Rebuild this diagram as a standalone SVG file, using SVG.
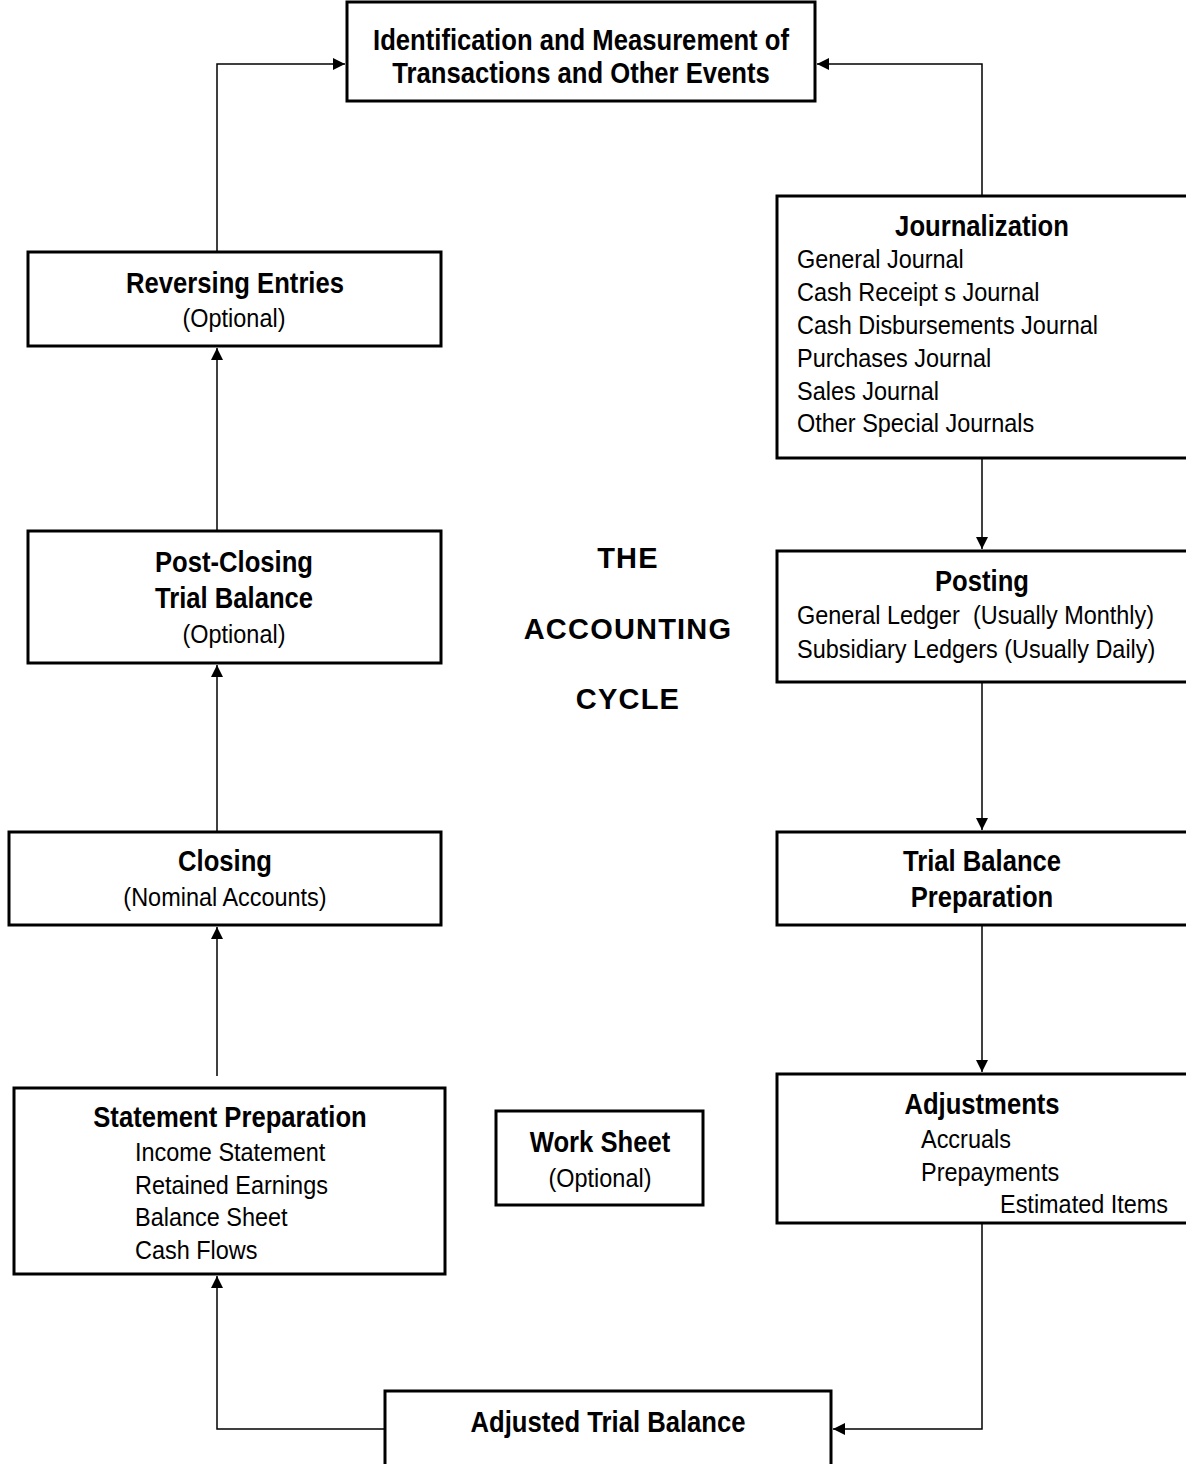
<svg xmlns="http://www.w3.org/2000/svg" width="1186" height="1464" viewBox="0 0 1186 1464">
<defs>
<style>
.box{fill:#fff;stroke:#000;stroke-width:3}
.t{font-family:"Liberation Sans",Arial,sans-serif;font-size:26.5px;fill:#000}
.b{font-weight:bold;font-size:30px}
.c{text-anchor:middle}
.cy{font-family:"Liberation Sans",Arial,sans-serif;font-weight:bold;font-size:29px;fill:#000;text-anchor:middle;letter-spacing:1.2px}
.ln{fill:none;stroke:#000;stroke-width:1.5}
</style>
<marker id="ah" viewBox="0 0 12 12" refX="12" refY="6" markerWidth="12" markerHeight="12" markerUnits="userSpaceOnUse" orient="auto">
<path d="M0,0 L12,6 L0,12 z" fill="#000"/>
</marker>
</defs>
<rect width="1186" height="1464" fill="#fff"/>
<g id="connectors">
<path class="ln" d="M217,252 V64 H345" marker-end="url(#ah)"/>
<path class="ln" d="M982,196 V64 H817" marker-end="url(#ah)"/>
<path class="ln" d="M217,531 V348" marker-end="url(#ah)"/>
<path class="ln" d="M217,832 V665" marker-end="url(#ah)"/>
<path class="ln" d="M217,1076 V927" marker-end="url(#ah)"/>
<path class="ln" d="M385,1429 H217 V1276" marker-end="url(#ah)"/>
<path class="ln" d="M982,458 V549" marker-end="url(#ah)"/>
<path class="ln" d="M982,682 V830" marker-end="url(#ah)"/>
<path class="ln" d="M982,925 V1072" marker-end="url(#ah)"/>
<path class="ln" d="M982,1223 V1429 H833" marker-end="url(#ah)"/>
</g>
<g id="identification">
<rect class="box" x="347" y="2" width="468" height="99"/>
<text class="t b c" transform="translate(581,50) scale(0.855,1)">Identification and Measurement of</text>
<text class="t b c" transform="translate(581,83) scale(0.855,1)">Transactions and Other Events</text>
</g>
<g id="journalization">
<rect class="box" x="777" y="196" width="420" height="262"/>
<text class="t b c" transform="translate(982,236) scale(0.855,1)">Journalization</text>
<text class="t" transform="translate(797,268) scale(0.885,1)">General Journal</text>
<text class="t" transform="translate(797,301) scale(0.885,1)">Cash Receipt s Journal</text>
<text class="t" transform="translate(797,334) scale(0.885,1)">Cash Disbursements Journal</text>
<text class="t" transform="translate(797,367) scale(0.885,1)">Purchases Journal</text>
<text class="t" transform="translate(797,400) scale(0.885,1)">Sales Journal</text>
<text class="t" transform="translate(797,432) scale(0.885,1)">Other Special Journals</text>
</g>
<g id="posting">
<rect class="box" x="777" y="551" width="420" height="131"/>
<text class="t b c" transform="translate(982,591) scale(0.855,1)">Posting</text>
<text class="t" transform="translate(797,623.5) scale(0.885,1)" xml:space="preserve">General Ledger  (Usually Monthly)</text>
<text class="t" transform="translate(797,657.5) scale(0.885,1)">Subsidiary Ledgers (Usually Daily)</text>
</g>
<g id="trial-balance">
<rect class="box" x="777" y="832" width="420" height="93"/>
<text class="t b c" transform="translate(982,871) scale(0.855,1)">Trial Balance</text>
<text class="t b c" transform="translate(982,907) scale(0.855,1)">Preparation</text>
</g>
<g id="adjustments">
<rect class="box" x="777" y="1074" width="420" height="149"/>
<text class="t b c" transform="translate(982,1114) scale(0.855,1)">Adjustments</text>
<text class="t" transform="translate(921,1147.5) scale(0.885,1)">Accruals</text>
<text class="t" transform="translate(921,1180.5) scale(0.885,1)">Prepayments</text>
<text class="t" transform="translate(1000,1212.5) scale(0.885,1)">Estimated Items</text>
</g>
<g id="adjusted-trial-balance">
<rect class="box" x="385" y="1391" width="446" height="90"/>
<text class="t b c" transform="translate(608,1432) scale(0.855,1)">Adjusted Trial Balance</text>
</g>
<g id="statement-preparation">
<rect class="box" x="14" y="1088" width="431" height="186"/>
<text class="t b c" transform="translate(230,1127) scale(0.855,1)">Statement Preparation</text>
<text class="t" transform="translate(135,1160.5) scale(0.885,1)">Income Statement</text>
<text class="t" transform="translate(135,1193.5) scale(0.885,1)">Retained Earnings</text>
<text class="t" transform="translate(135,1225.5) scale(0.885,1)">Balance Sheet</text>
<text class="t" transform="translate(135,1258.5) scale(0.885,1)">Cash Flows</text>
</g>
<g id="work-sheet">
<rect class="box" x="496" y="1111" width="207" height="94"/>
<text class="t b c" transform="translate(600,1152) scale(0.855,1)">Work Sheet</text>
<text class="t c" transform="translate(600,1186.5) scale(0.885,1)">(Optional)</text>
</g>
<g id="closing">
<rect class="box" x="9" y="832" width="432" height="93"/>
<text class="t b c" transform="translate(225,871) scale(0.855,1)">Closing</text>
<text class="t c" transform="translate(225,905.5) scale(0.885,1)">(Nominal Accounts)</text>
</g>
<g id="post-closing">
<rect class="box" x="28" y="531" width="413" height="132"/>
<text class="t b c" transform="translate(234,572) scale(0.855,1)">Post-Closing</text>
<text class="t b c" transform="translate(234,608) scale(0.855,1)">Trial Balance</text>
<text class="t c" transform="translate(234,642.5) scale(0.885,1)">(Optional)</text>
</g>
<g id="reversing-entries">
<rect class="box" x="28" y="252" width="413" height="94"/>
<text class="t b c" transform="translate(235,293) scale(0.855,1)">Reversing Entries</text>
<text class="t c" transform="translate(234,326.5) scale(0.885,1)">(Optional)</text>
</g>
<g id="title">
<text class="cy" x="628" y="568">THE</text>
<text class="cy" x="628" y="639">ACCOUNTING</text>
<text class="cy" x="628" y="709">CYCLE</text>
</g>
</svg>
